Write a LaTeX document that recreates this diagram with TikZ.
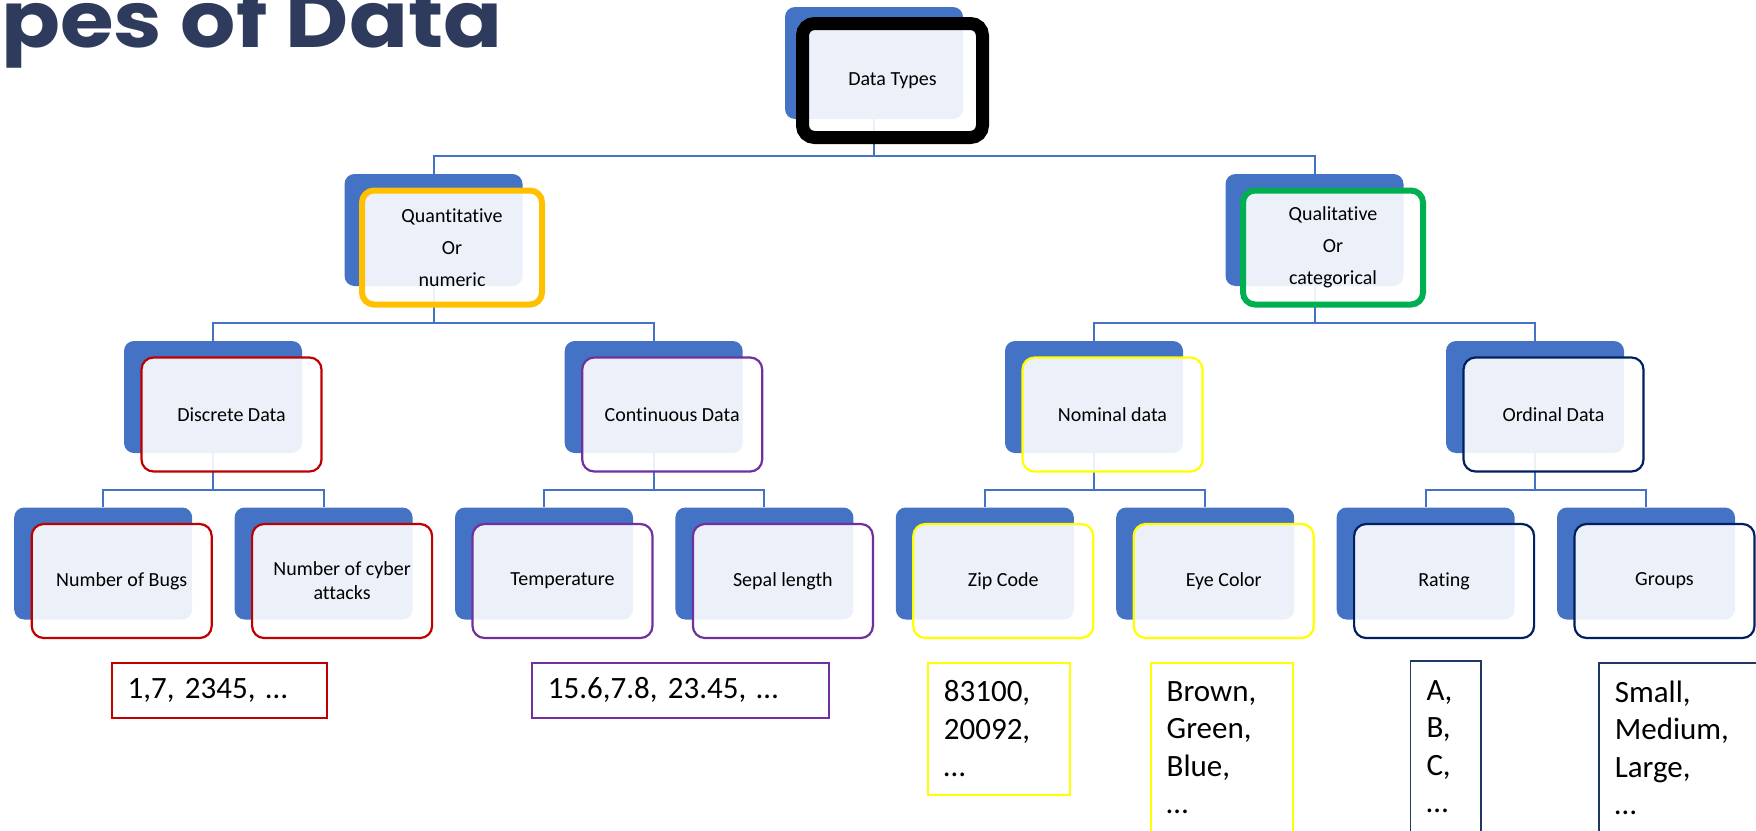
\documentclass[tikz,border=0pt]{standalone}
\usepackage{fontspec}
\setmainfont{Carlito}[Ligatures=NoCommon]
\newfontfamily\titlefont{Poppins}
\pgfdeclarelayer{bg}
\pgfsetlayers{bg,main}
\definecolor{sablue}{HTML}{4472C4}
\definecolor{titlecol}{RGB}{46,59,92}
\definecolor{cOrange}{HTML}{FFC000}
\definecolor{cGreen}{HTML}{00B050}
\definecolor{cRed}{HTML}{C00000}
\definecolor{cPurple}{HTML}{7030A0}
\definecolor{cYellow}{HTML}{FFFF00}
\definecolor{cNavy}{HTML}{002060}
\definecolor{cNavyBox}{HTML}{203864}
\tikzset{
  bluebox/.style={fill=sablue, rounded corners=5pt, minimum width=89pt, minimum height=56pt, inner sep=0pt},
  frontbox/.style={fill=white, fill opacity=0.9, text opacity=1, rounded corners=6pt,
     minimum width=90pt, minimum height=57pt, inner sep=0pt, align=center,
     font=\fontsize{10}{12}\selectfont},
  tallines/.style={font=\fontsize{10}{16}\selectfont},
  fBlack/.style={frontbox, draw=black, line width=6.5pt},
  fOrange/.style={frontbox, draw=cOrange, line width=3pt},
  fGreen/.style={frontbox, draw=cGreen, line width=3pt},
  fRed/.style={frontbox, draw=cRed, line width=1.1pt},
  fPurple/.style={frontbox, draw=cPurple, line width=1.1pt},
  fYellow/.style={frontbox, draw=cYellow, line width=1.1pt},
  fNavy/.style={frontbox, draw=cNavy, line width=1.1pt},
  conn/.style={draw=sablue, line width=1pt},
  valbox/.style={anchor=north west, line width=0.9pt, inner xsep=8pt, inner ysep=0pt,
     align=left, font=\fontsize{15.5}{18.75}\selectfont},
}
\newcommand\mkunit[5]{%
  \node[bluebox] (b#1) at (#2,#3) {};
  \node[#4] (#1) at ([shift={(18.5,17.5)}]b#1.center) {#5};
}
\begin{document}
\begin{tikzpicture}[x=0.5pt, y=-0.5pt]
\useasboundingbox (0,0) rectangle (1756,830);
\clip (0,0) rectangle (1756,830);

% title
\node[anchor=base west, inner sep=0pt, text=titlecol,
      font=\titlefont\bfseries\fontsize{39}{39}\selectfont] (title) at (1,47) {\scalebox{1.114}[1]{pes of Data}};

% level 0
\mkunit{DT}{874}{63}{fBlack}{Data Types}
% level 1
\mkunit{QN}{433.5}{230}{fOrange,tallines}{Quantitative\\Or\\numeric}
\mkunit{QL}{1314.5}{230}{fGreen,tallines}{Qualitative\\Or\\categorical}
% level 2
\mkunit{DD}{213}{397}{fRed}{Discrete Data}
\mkunit{CD}{653.7}{397}{fPurple}{Continuous Data}
\mkunit{ND}{1094}{397}{fYellow}{Nominal data}
\mkunit{OD}{1535}{397}{fNavy}{Ordinal Data}
% level 3
\mkunit{NB}{103.2}{563.5}{fRed}{Number of Bugs}
\mkunit{NC}{323.6}{563.5}{fRed}{Number of cyber\\attacks}
\mkunit{TE}{544}{563.5}{fPurple}{Temperature}
\mkunit{SL}{764.4}{563.5}{fPurple}{Sepal length}
\mkunit{ZC}{984.8}{563.5}{fYellow}{Zip Code}
\mkunit{EC}{1205.2}{563.5}{fYellow}{Eye Color}
\mkunit{RA}{1425.6}{563.5}{fNavy}{Rating}
\mkunit{GR}{1646}{563.5}{fNavy}{Groups}

% connectors
\begin{pgfonlayer}{bg}
\draw[conn] (bDT.south) -- ++(0,37) -| (bQN.north);
\draw[conn] (bDT.south) -- ++(0,37) -| (bQL.north);
\draw[conn] (bQN.south) -- ++(0,37) -| (bDD.north);
\draw[conn] (bQN.south) -- ++(0,37) -| (bCD.north);
\draw[conn] (bQL.south) -- ++(0,37) -| (bND.north);
\draw[conn] (bQL.south) -- ++(0,37) -| (bOD.north);
\draw[conn] (bDD.south) -- ++(0,37) -| (bNB.north);
\draw[conn] (bDD.south) -- ++(0,37) -| (bNC.north);
\draw[conn] (bCD.south) -- ++(0,37) -| (bTE.north);
\draw[conn] (bCD.south) -- ++(0,37) -| (bSL.north);
\draw[conn] (bND.south) -- ++(0,37) -| (bZC.north);
\draw[conn] (bND.south) -- ++(0,37) -| (bEC.north);
\draw[conn] (bOD.south) -- ++(0,37) -| (bRA.north);
\draw[conn] (bOD.south) -- ++(0,37) -| (bGR.north);
\end{pgfonlayer}

% value boxes
\node[valbox, draw=cRed, text width=91.6pt, minimum height=27.65pt] (vNB) at (110.8,661.7) {1,7, 2345, …};
\node[valbox, draw=cPurple, text width=132.4pt, minimum height=27.65pt] (vCD) at (531,661.7) {15.6,7.8, 23.45, …};
\node[valbox, draw=cYellow, text width=54.9pt, minimum height=66pt] (vZC) at (927,661.7) {83100,\\20092,\\…};
\node[valbox, draw=cYellow, text width=55pt, minimum height=85.3pt] (vEC) at (1149.8,661.7) {Brown,\\Green,\\Blue,\\…};
\node[valbox, draw=cNavyBox, text width=19.2pt, minimum height=86pt] (vRA) at (1409.6,660) {A,\\B,\\C,\\…};
\node[valbox, draw=cNavyBox, text width=84pt, minimum height=85.3pt] (vGR) at (1597.9,661.7) {Small,\\Medium,\\Large,\\…};
\end{tikzpicture}
\end{document}
